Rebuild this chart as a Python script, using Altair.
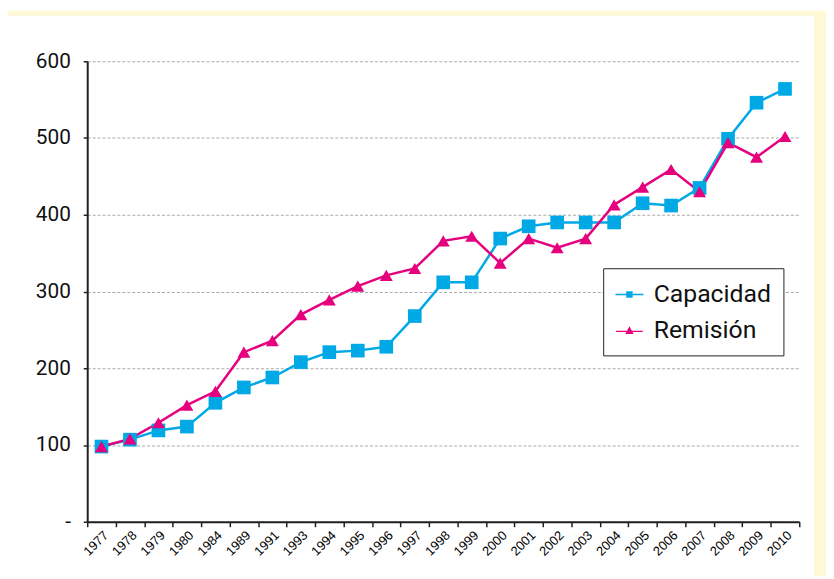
import altair as alt
import pandas as pd

years = ["1977", "1978", "1979", "1980", "1984", "1989", "1991", "1993", "1994", "1995",
         "1996", "1997", "1998", "1999", "2000", "2001", "2002", "2003", "2004", "2005",
         "2006", "2007", "2008", "2009", "2010"]
capacidad = [98, 107, 119, 124, 155, 175, 188, 208, 221, 223, 228, 268, 312, 312, 369,
             385, 390, 390, 390, 415, 412, 435, 499, 546, 564]
remision = [98, 108, 129, 152, 170, 221, 236, 270, 289, 307, 321, 330, 366, 372, 337,
            369, 357, 369, 413, 436, 459, 430, 494, 475, 502]
series = ["Capacidad", "Remisión"]
colors = ["#00A9E6", "#E6007E"]
y_ticks = [0, 100, 200, 300, 400, 500, 600]

rows = []
for yr, v in zip(years, capacidad):
    rows.append({"year": yr, "series": series[0], "value": v})
for yr, v in zip(years, remision):
    rows.append({"year": yr, "series": series[1], "value": v})
df = pd.DataFrame(rows)

AXIS_COL = "#231F20"

x_enc = alt.X(
    "year:N", sort=years,
    scale=alt.Scale(type="band", paddingInner=0, paddingOuter=0),
    axis=alt.Axis(title=None, tickBand="extent", labelAngle=-45, labelAlign="right",
                  labelBaseline="top", labelPadding=2, labelFont="Liberation Sans",
                  labelFontSize=13, labelColor="#000", domainColor=AXIS_COL, domainWidth=2,
                  tickColor=AXIS_COL, tickWidth=1.5, tickSize=5, grid=False),
)
y_enc = alt.Y(
    "value:Q", scale=alt.Scale(domain=[0, 600], nice=False, zero=True),
    axis=alt.Axis(title=None, values=y_ticks,
                  labelExpr="datum.value == 0 ? '-' : datum.label",
                  labelFont="Roboto", labelFontSize=21, labelColor="#111", labelPadding=13,
                  domainColor=AXIS_COL, domainWidth=2, tickColor=AXIS_COL, tickWidth=1.5,
                  tickSize=4, grid=True, gridColor="#A8A8A8", gridDash=[3, 2], gridWidth=1),
)

base = alt.Chart(df)

cap_line = base.transform_filter(alt.datum.series == series[0]).mark_line(
    color=colors[0], strokeWidth=2.5).encode(x=x_enc, y=y_enc)
cap_pts = base.transform_filter(alt.datum.series == series[0]).mark_point(
    shape="square", filled=True, opacity=1, color=colors[0], size=190).encode(x=x_enc, y=y_enc)
rem_line = base.transform_filter(alt.datum.series == series[1]).mark_line(
    color=colors[1], strokeWidth=2.5).encode(x=x_enc, y=y_enc)
rem_pts = base.transform_filter(alt.datum.series == series[1]).mark_point(
    shape="triangle-up", filled=True, opacity=1, color=colors[1], size=170).encode(x=x_enc, y=y_enc)

sq_path = "M-1,-0.06H-0.23V-0.23H0.23V-0.06H1V0.06H0.23V0.23H-0.23V0.06H-1Z"
tri_path = "M-0.95,0.04H-0.17L0,-0.28L0.17,0.04H0.95V0.14H0.22L0.3,0.28H-0.3L-0.22,0.14H-0.95Z"

legend = alt.Legend(title=None, orient="none", legendX=521, legendY=209,
                    labelFont="Roboto", labelFontSize=25, labelColor="#111",
                    symbolSize=800, symbolOpacity=1, symbolStrokeWidth=0,
                    labelOffset=10, rowPadding=8, padding=12,
                    strokeColor="#222", fillColor="white", cornerRadius=0)

leg_layer = base.mark_point(filled=True, opacity=0).encode(
    x=x_enc, y=y_enc,
    color=alt.Color("series:N", scale=alt.Scale(domain=series, range=colors), legend=legend),
    shape=alt.Shape("series:N", scale=alt.Scale(domain=series, range=[sq_path, tri_path]),
                    legend=legend),
)

dummy = alt.Chart(alt.Data(values=[{"a": 1}]))
top_band = dummy.mark_rect(color="#FFF9D6").encode(
    x=alt.value(-80), x2=alt.value(746), y=alt.value(-51), y2=alt.value(-46))
right_band = dummy.mark_rect(color="#FFF9D6").encode(
    x=alt.value(734), x2=alt.value(746), y=alt.value(-51), y2=alt.value(520))

chart = alt.layer(top_band, right_band, cap_line, rem_line, cap_pts, rem_pts, leg_layer).properties(
    width=719, height=465,
    padding={"left": 80, "top": 51, "right": 27, "bottom": 55},
    autosize=alt.AutoSizeParams(type="none"),
    background="white",
).configure_view(stroke=None)

chart.save("out.html", embed_options={"renderer": "svg", "actions": False})
